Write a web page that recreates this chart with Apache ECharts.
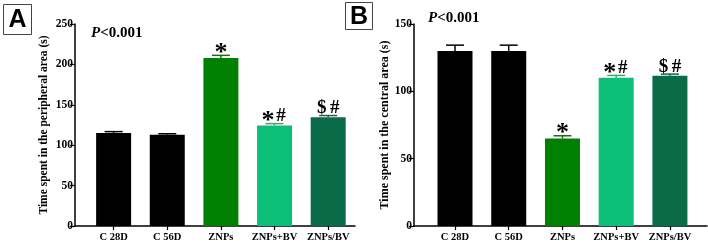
<!DOCTYPE html>
<html>
<head>
<meta charset="utf-8">
<script src="https://cdn.jsdelivr.net/npm/echarts@6/dist/echarts.min.js"></script>
<style>
  html, body { margin: 0; padding: 0; background: #fff; }
  #chart { width: 708px; height: 243px; }
</style>
</head>
<body>
<div id="chart"></div>
<script>
// groups and values
var categories = ["C 28D", "C 56D", "ZNPs", "ZNPs+BV", "ZNPs/BV"];
var periphMean = [115, 113, 208, 124.5, 134.5];
var periphErr = [1.8, 1.2, 3.2, 2.2, 2.2];
var centralMean = [130, 130, 65, 110, 111.5];
var centralErr = [4.3, 4.3, 2, 1.8, 1.3];
var marksA = ["", "", "*", "*#", "$#"];
var marksB = ["", "", "*", "*#", "$#"];
var ticksA = [0, 50, 100, 150, 200, 250];
var ticksB = [0, 50, 100, 150];
var barColors = ["#000000", "#000000", "#007f00", "#0bbf78", "#096b47"];

var serif = '"Liberation Serif", "Times New Roman", serif';
var catIdx = categories.map(function (c, i) { return i; });

function barData(means) {
  return means.map(function (v, i) { return [i, v]; });
}

// one text element per significance sign, the asterisk is bigger and sits lower
function markEls(s, cx, capY) {
  var chars = s.split("");
  var n = chars.length;
  return chars.map(function (ch, k) {
    var star = ch === "*";
    return {
      type: "text",
      style: {
        text: ch,
        x: cx + (k - (n - 1) / 2) * 13,
        y: star ? capY - 2.5 : capY - 7.5,
        textAlign: "center",
        textVerticalAlign: "middle",
        font: "bold " + (star ? 26 : 19) + "px " + serif,
        fill: "#000"
      }
    };
  });
}

function errRender(means, errs, marks) {
  return function (params, api) {
    var i = params.dataIndex;
    var p0 = api.coord([i, means[i]]);
    var p1 = api.coord([i, means[i] + errs[i]]);
    var st = { stroke: barColors[i], lineWidth: 1.5 };
    return {
      type: "group",
      children: [
        { type: "line", shape: { x1: p0[0], y1: p0[1], x2: p1[0], y2: p1[1] }, style: st },
        { type: "line", shape: { x1: p1[0] - 9, y1: p1[1], x2: p1[0] + 9, y2: p1[1] }, style: st }
      ].concat(markEls(marks[i], p1[0], p1[1]))
    };
  };
}

function xAxisOf(gridIndex, min, max) {
  return {
    type: "value",
    gridIndex: gridIndex,
    min: min,
    max: max,
    splitLine: { show: false },
    axisLine: { show: true, onZero: false, lineStyle: { color: "#000", width: 1.5 } },
    axisTick: { show: true, customValues: catIdx, length: 4, lineStyle: { color: "#000", width: 1.2 } },
    axisLabel: {
      customValues: catIdx,
      margin: 6,
      color: "#000",
      fontFamily: serif,
      fontWeight: "bold",
      fontSize: 10.5,
      formatter: function (v) { return categories[Math.round(v)]; }
    }
  };
}

function yAxisOf(gridIndex, ticks, name, nameGap, nameSize) {
  return {
    type: "value",
    gridIndex: gridIndex,
    min: ticks[0],
    max: ticks[ticks.length - 1],
    interval: ticks[1] - ticks[0],
    name: name,
    nameLocation: "middle",
    nameGap: nameGap,
    nameTextStyle: { color: "#000", fontFamily: serif, fontWeight: "bold", fontSize: nameSize },
    splitLine: { show: false },
    axisLine: { show: true, onZero: false, lineStyle: { color: "#000", width: 1.5 } },
    axisTick: { show: true, length: 5, lineStyle: { color: "#000", width: 1.2 } },
    axisLabel: { margin: 2, color: "#000", fontFamily: serif, fontWeight: "bold", fontSize: 11.5 }
  };
}

function panelBox(letter, x, y, w, h) {
  return {
    type: "group",
    left: x,
    top: y,
    children: [
      { type: "rect", shape: { x: 0, y: 0, width: w, height: h }, style: { fill: "#fff", stroke: "#444", lineWidth: 1 } },
      {
        type: "text",
        style: {
          text: letter, x: w / 2, y: h / 2 + 1,
          textAlign: "center", textVerticalAlign: "middle",
          font: 'bold 25px "Liberation Sans", Arial, sans-serif', fill: "#000"
        }
      }
    ]
  };
}

var pRich = {
  i: { fontFamily: serif, fontStyle: "italic", fontWeight: "bold", fontSize: 15, color: "#000" },
  n: { fontFamily: serif, fontWeight: "bold", fontSize: 15, color: "#000" }
};

var chart = echarts.init(document.getElementById("chart"));
var option = {
  animation: false,
  backgroundColor: "#fff",
  title: [
    { text: "{i|P}{n|<0.001}", left: 91, top: 26, padding: 0, textStyle: { rich: pRich } },
    { text: "{i|P}{n|<0.001}", left: 428, top: 11, padding: 0, textStyle: { rich: pRich } }
  ],
  grid: [
    { left: 75, top: 24, width: 280, height: 202 },
    { left: 414, top: 24, width: 293, height: 202 }
  ],
  xAxis: [xAxisOf(0, -0.72, 4.5), xAxisOf(1, -0.763, 4.69)],
  yAxis: [
    yAxisOf(0, ticksA, "Time spent in the peripheral area (s)", 25, 11.5),
    yAxisOf(1, ticksB, "Time spent in the central area (s)", 22, 12)
  ],
  graphic: [panelBox("A", 3, 4, 28, 30), panelBox("B", 345, 2, 27, 27)],
  series: [
    {
      type: "bar", xAxisIndex: 0, yAxisIndex: 0, barWidth: 35,
      data: barData(periphMean),
      itemStyle: { color: function (p) { return barColors[p.dataIndex]; } }
    },
    {
      type: "custom", xAxisIndex: 0, yAxisIndex: 0,
      data: barData(periphMean), renderItem: errRender(periphMean, periphErr, marksA)
    },
    {
      type: "bar", xAxisIndex: 1, yAxisIndex: 1, barWidth: 35,
      data: barData(centralMean),
      itemStyle: { color: function (p) { return barColors[p.dataIndex]; } }
    },
    {
      type: "custom", xAxisIndex: 1, yAxisIndex: 1,
      data: barData(centralMean), renderItem: errRender(centralMean, centralErr, marksB)
    }
  ]
};
chart.setOption(option);
window.addEventListener("resize", function () {
  chart.resize();
});
</script>
</body>
</html>
